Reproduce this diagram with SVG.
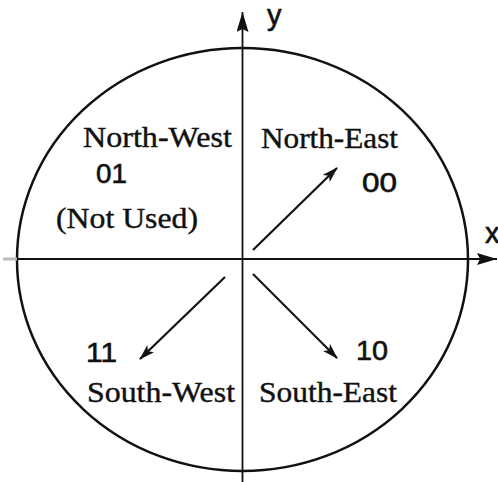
<svg xmlns="http://www.w3.org/2000/svg" width="498" height="482" viewBox="0 0 498 482">
<defs>
<style>
.serif{font-family:"Liberation Serif","Times New Roman",serif;font-size:30px;fill:#111;stroke:#111;stroke-width:0.4}
.sans{font-family:"Liberation Sans",Arial,sans-serif;font-size:27px;fill:#111;stroke:#111;stroke-width:0.6}
.lab{font-size:29px}
.ax{stroke:#111;stroke-width:1.8;fill:none}
.arr{stroke:#111;stroke-width:2.2;fill:none}
</style>
<marker id="ah" markerWidth="16" markerHeight="10" refX="15" refY="5" orient="auto" markerUnits="userSpaceOnUse">
<path d="M0,0 L16,5 L0,10 L4,5 Z" fill="#111"/>
</marker>
<marker id="axh" markerWidth="20" markerHeight="12" refX="20" refY="6" orient="auto" markerUnits="userSpaceOnUse">
<path d="M0,0 L20,6 L0,12 L3,6 Z" fill="#111"/>
</marker>
</defs>
<g id="circle">
<ellipse cx="242.5" cy="259.5" rx="225.5" ry="211.5" fill="none" stroke="#111" stroke-width="2.5"/>
</g>
<g id="axes">
<line x1="3" y1="259" x2="17" y2="259" stroke="#bbb" stroke-width="3"/>
<line class="ax" x1="17" y1="259" x2="497" y2="259" marker-end="url(#axh)"/>
<line class="ax" x1="242.5" y1="482" x2="242.5" y2="12" marker-end="url(#axh)"/>
<text class="sans lab" x="267" y="25">y</text>
<text class="sans lab" x="485" y="243">x</text>
</g>
<g id="connectors">
<line class="arr" x1="253" y1="250" x2="337" y2="168" marker-end="url(#ah)"/>
<line class="arr" x1="225" y1="277" x2="140" y2="359" marker-end="url(#ah)"/>
<line class="arr" x1="253" y1="274" x2="337" y2="358" marker-end="url(#ah)"/>
</g>
<g id="nw">
<text class="serif" x="83" y="147" textLength="149" lengthAdjust="spacingAndGlyphs">North-West</text>
<text class="sans" x="96" y="183" textLength="31" lengthAdjust="spacingAndGlyphs">01</text>
<text class="serif" x="56" y="228" textLength="142" lengthAdjust="spacingAndGlyphs">(Not Used)</text>
</g>
<g id="ne">
<text class="serif" x="261" y="148" textLength="137" lengthAdjust="spacingAndGlyphs">North-East</text>
<text class="sans" x="362" y="192" textLength="35" lengthAdjust="spacingAndGlyphs">00</text>
</g>
<g id="sw">
<text class="sans" x="86" y="362" textLength="31" lengthAdjust="spacingAndGlyphs">11</text>
<text class="serif" x="87" y="402" textLength="148" lengthAdjust="spacingAndGlyphs">South-West</text>
</g>
<g id="se">
<text class="sans" x="356" y="360" textLength="32" lengthAdjust="spacingAndGlyphs">10</text>
<text class="serif" x="259" y="402" textLength="138" lengthAdjust="spacingAndGlyphs">South-East</text>
</g>
</svg>
